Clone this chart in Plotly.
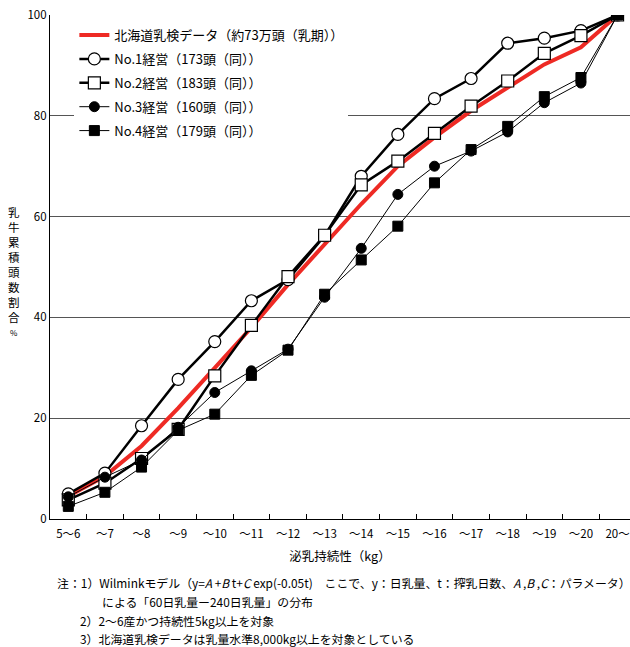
import plotly.graph_objects as go

categories = ["5～6", "～7", "～8", "～9", "～10", "～11", "～12", "～13", "～14",
              "～15", "～16", "～17", "～18", "～19", "～20", "20～"]
hokkaido = [4.5, 8.5, 14.5, 22.0, 30.0, 38.0, 46.5, 54.5, 62.5, 70.0, 75.7, 81.0, 85.6, 90.2, 93.6, 100]
farm1 = [5.0, 9.1, 18.5, 27.7, 35.2, 43.3, 47.5, 56.2, 68.0, 76.3, 83.4, 87.4, 94.4, 95.4, 96.9, 100]
farm2 = [3.8, 7.1, 12.0, 17.8, 28.4, 38.4, 48.1, 56.3, 66.3, 71.0, 76.5, 81.9, 86.9, 92.4, 95.9, 100]
farm3 = [4.4, 8.3, 11.7, 18.2, 25.1, 29.4, 33.7, 44.0, 53.7, 64.4, 70.0, 73.0, 76.8, 82.6, 86.5, 100]
farm4 = [2.5, 5.3, 10.3, 17.6, 20.8, 28.5, 33.5, 44.6, 51.4, 58.1, 66.7, 73.3, 77.9, 83.8, 87.6, 100]

names = ["北海道乳検データ（約73万頭（乳期））", "No.1経営（173頭（同））", "No.2経営（183頭（同））",
         "No.3経営（160頭（同））", "No.4経営（179頭（同））"]
ytitle_chars = ["乳", "牛", "累", "積", "頭", "数", "割", "合", "%"]

FONT = "Noto Sans CJK JP, Noto Sans, sans-serif"
xs = list(range(len(categories)))

fig = go.Figure()
fig.add_trace(go.Scatter(x=xs, y=hokkaido, mode="lines", name=names[0], legendgroup="g0",
                         line=dict(color="#ee2a24", width=4)))
fig.add_trace(go.Scatter(x=xs, y=farm1, mode="lines+markers", name=names[1], legendgroup="g1",
                         line=dict(color="black", width=2.5),
                         marker=dict(symbol="circle", size=12, color="white",
                                     line=dict(color="black", width=1.2))))
fig.add_trace(go.Scatter(x=xs, y=farm2, mode="lines+markers", name=names[2], legendgroup="g2",
                         line=dict(color="black", width=2.5),
                         marker=dict(symbol="square", size=12, color="white",
                                     line=dict(color="black", width=1.2))))
fig.add_trace(go.Scatter(x=xs, y=farm3, mode="lines+markers", name=names[3], legendgroup="g3",
                         line=dict(color="black", width=1),
                         marker=dict(symbol="circle", size=10, color="black",
                                     line=dict(color="black", width=1))))
fig.add_trace(go.Scatter(x=xs, y=farm4, mode="lines+markers", name=names[4], legendgroup="g4",
                         line=dict(color="black", width=1),
                         marker=dict(symbol="square", size=10, color="black",
                                     line=dict(color="black", width=1))))

fig.update_layout(
    width=630, height=647,
    margin=dict(l=50, r=0, t=15, b=128),
    paper_bgcolor="white", plot_bgcolor="white",
    font=dict(family=FONT, size=12, color="black"),
    legend=dict(x=0.042, y=0.99, xanchor="left", yanchor="top",
                bgcolor="white", borderwidth=0, font=dict(size=13, family=FONT),
                traceorder="grouped", tracegroupgap=4, itemwidth=30),
    xaxis=dict(range=[-0.5, 15.34], tickmode="array", tickvals=xs, ticktext=categories,
               ticks="", showgrid=False, zeroline=False, showline=True,
               linecolor="black", linewidth=1.2, tickfont=dict(size=11.5),
               ticklabelstandoff=4, ticklabeloverflow="allow",
               minor=dict(tickmode="array", tickvals=[i + 0.5 for i in range(15)],
                          ticks="inside", ticklen=5, tickcolor="black", tickwidth=1),
               title=dict(text="泌乳持続性（kg）", font=dict(size=12.5), standoff=12)),
    yaxis=dict(range=[0, 100], tickmode="array", tickvals=[0, 20, 40, 60, 80, 100],
               showgrid=True, gridcolor="#555555", gridwidth=1, zeroline=False,
               showline=True, linecolor="black", linewidth=1.2, ticks="",
               tickfont=dict(size=11.5)),
)

for k, ch in enumerate(ytitle_chars):
    py = 212 + 15 * k
    fig.add_annotation(xref="paper", yref="paper", x=(14 - 50) / 580, y=(519 - py) / 504,
                       xanchor="center", yanchor="middle", text=ch, showarrow=False,
                       font=dict(size=8 if ch == "%" else 11.5, family=FONT))

notes = [
    (55, 582, "注：1）Wilminkモデル（y=<i>A</i> +<i>B</i> t+<i>C</i> exp(-0.05t)　ここで、y：日乳量、t：搾乳日数、<i>A</i> ,<i>B</i> ,<i>C</i>：パラメータ）"),
    (100, 601, "による「60日乳量ー240日乳量」の分布"),
    (78, 620, "2）2～6産かつ持続性5kg以上を対象"),
    (78, 638, "3）北海道乳検データは乳量水準8,000kg以上を対象としている"),
]
for px, py, t in notes:
    fig.add_annotation(xref="paper", yref="paper", x=(px - 50) / 580, y=(519 - py) / 504,
                       xanchor="left", yanchor="middle", text=t, showarrow=False,
                       font=dict(size=11.9, family=FONT))

fig.write_html("out.html", config={"displayModeBar": False},
               post_script="document.body.style.margin='0';document.body.style.padding='0';")
